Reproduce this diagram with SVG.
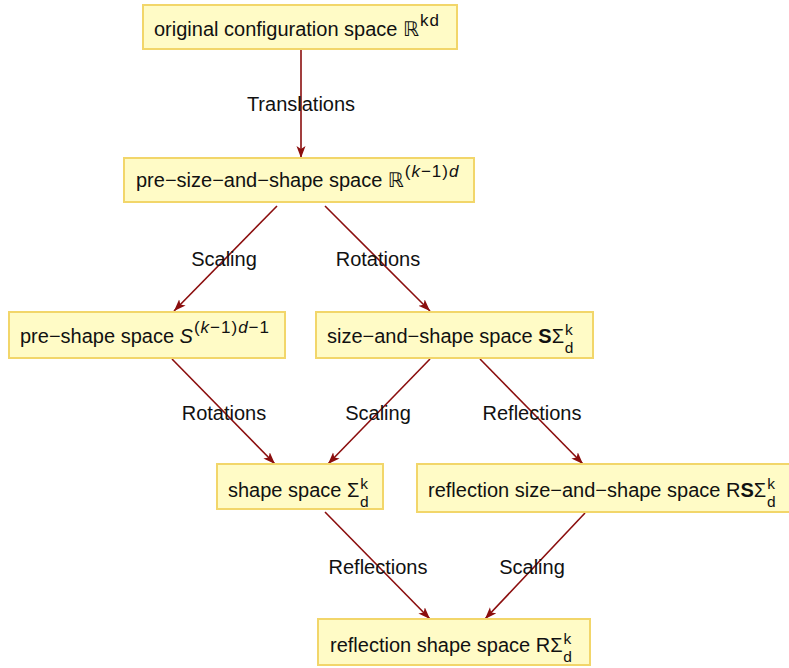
<svg xmlns="http://www.w3.org/2000/svg" width="789" height="668" viewBox="0 0 789 668">
<style>
  .box { fill: #FFFBC6; stroke: #F2D66A; stroke-width: 2; }
  .t { font-family: "Liberation Sans", Arial, sans-serif; font-size: 20px; fill: #111; }
  .lbl { font-family: "Liberation Sans", Arial, sans-serif; font-size: 20px; fill: #111; text-anchor: middle; }
  .e { stroke: #8B0E0E; stroke-width: 1.6; fill: none; marker-end: url(#ah); }
  .s { font-size: 17px; letter-spacing: 1px; }
  .q { font-size: 15.5px; }
  .i { font-style: italic; }
  .b { font-weight: bold; }
  .r { font-family: "DejaVu Sans", sans-serif; }
</style>
<defs>
  <marker id="ah" markerUnits="userSpaceOnUse" markerWidth="14" markerHeight="10" refX="12" refY="4.5" orient="auto">
    <path d="M0,0 L12,4.5 L0,9 L3,4.5 z" fill="#8B0E0E"/>
  </marker>
</defs>
<rect width="789" height="668" fill="#ffffff"/>
<g id="edges">
  <line class="e" x1="301" y1="50" x2="301" y2="158"/>
  <line class="e" x1="277" y1="206" x2="174" y2="311"/>
  <line class="e" x1="325" y1="206" x2="430" y2="311"/>
  <line class="e" x1="172" y1="359" x2="275" y2="464"/>
  <line class="e" x1="430" y1="359" x2="328" y2="464"/>
  <line class="e" x1="480" y1="359" x2="583" y2="464"/>
  <line class="e" x1="325" y1="512" x2="430" y2="619"/>
  <line class="e" x1="585" y1="513" x2="485" y2="619"/>
  <text class="lbl" x="301" y="111">Translations</text>
  <text class="lbl" x="224" y="266">Scaling</text>
  <text class="lbl" x="378" y="266">Rotations</text>
  <text class="lbl" x="224" y="420">Rotations</text>
  <text class="lbl" x="378" y="420">Scaling</text>
  <text class="lbl" x="532" y="420">Reflections</text>
  <text class="lbl" x="378" y="574">Reflections</text>
  <text class="lbl" x="532" y="574">Scaling</text>
</g>
<g id="n1">
  <rect class="box" x="143" y="5" width="314" height="44"/>
  <text class="t" x="154" y="36">original configuration space <tspan class="r">ℝ</tspan><tspan class="s" dx="1" dy="-10">kd</tspan></text>
</g>
<g id="n2">
  <rect class="box" x="124" y="158" width="350" height="44"/>
  <text class="t" x="136" y="187">pre−size−and−shape space <tspan class="r">ℝ</tspan><tspan class="s" dx="1" dy="-10">(<tspan class="i">k</tspan>−1)<tspan class="i">d</tspan></tspan></text>
</g>
<g id="n3">
  <rect class="box" x="9" y="312" width="276" height="46"/>
  <text class="t" x="20" y="343">pre−shape space <tspan class="i">S</tspan><tspan class="s" dx="1" dy="-10">(<tspan class="i">k</tspan>−1)<tspan class="i">d</tspan>−1</tspan></text>
</g>
<g id="n4">
  <rect class="box" x="316" y="312" width="277" height="46"/>
  <text class="t" x="327" y="343">size−and−shape space <tspan class="b">S</tspan>Σ<tspan class="q" dx="1" dy="-8">k</tspan><tspan class="q" dx="-8" dy="18">d</tspan></text>
</g>
<g id="n5">
  <rect class="box" x="217" y="464" width="166" height="45"/>
  <text class="t" x="228" y="497">shape space Σ<tspan class="q" dx="1" dy="-8">k</tspan><tspan class="q" dx="-8" dy="18">d</tspan></text>
</g>
<g id="n6">
  <rect class="box" x="417" y="464" width="380" height="48"/>
  <text class="t" x="428" y="497">reflection size−and−shape space R<tspan class="b">S</tspan>Σ<tspan class="q" dx="1" dy="-8">k</tspan><tspan class="q" dx="-8" dy="18">d</tspan></text>
</g>
<g id="n7">
  <rect class="box" x="318" y="619" width="272" height="46"/>
  <text class="t" x="330" y="652">reflection shape space RΣ<tspan class="q" dx="1" dy="-8">k</tspan><tspan class="q" dx="-8" dy="18">d</tspan></text>
</g>
</svg>
